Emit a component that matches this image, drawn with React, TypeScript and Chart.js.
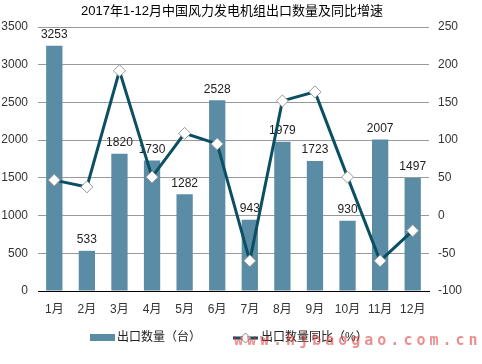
import React, { useEffect, useRef } from "react";
import { Chart, registerables } from "chart.js";

Chart.register(...registerables);

const titleText = "2017年1-12月中国风力发电机组出口数量及同比增速";
const categories = ["1月", "2月", "3月", "4月", "5月", "6月", "7月", "8月", "9月", "10月", "11月", "12月"];
const exportQty = [3253, 533, 1820, 1730, 1282, 2528, 943, 1979, 1723, 930, 2007, 1497];
const yoyGrowth = [47, 38, 192, 51, 109, 95, -60, 152, 164, 51, -60, -20];
const barLabel = "出口数量（台）";
const lineLabel = "出口数量同比（%）";
const watermark = "www.hjbaogao.com.cn";

const BAR_COLOR = "#5b8ca5";
const LINE_COLOR = "#0b4f63";
const FONT = "'Liberation Sans', 'Noto Sans CJK SC', sans-serif";

export default function App() {
  const ref = useRef<HTMLCanvasElement | null>(null);
  useEffect(() => {
    if (!ref.current) return;
    const labelPlugin = {
      id: "extras",
      afterDatasetDraw(chart: any, args: any) {
        if (args.index !== 0) return;
        const ctx = chart.ctx;
        const meta = chart.getDatasetMeta(0);
        ctx.save();
        ctx.font = `12px ${FONT}`;
        ctx.fillStyle = "#222";
        ctx.textAlign = "center";
        ctx.textBaseline = "bottom";
        meta.data.forEach((el: any, i: number) => {
          ctx.fillText(String(exportQty[i]), el.x, el.y - 5);
        });
        ctx.restore();
      },
      afterDraw(chart: any) {
        const ctx = chart.ctx;
        ctx.save();
        ctx.font = `13px ${FONT}`;
        ctx.fillStyle = "#000";
        ctx.textAlign = "center";
        ctx.textBaseline = "middle";
        ctx.fillText(titleText, 232, 11);
        // legend
        ctx.font = `12px ${FONT}`;
        ctx.fillStyle = BAR_COLOR;
        ctx.fillRect(90, 334, 25, 7);
        ctx.fillStyle = "#222";
        ctx.textAlign = "left";
        ctx.fillText(barLabel, 117, 338);
        ctx.strokeStyle = LINE_COLOR;
        ctx.lineWidth = 3;
        ctx.beginPath();
        ctx.moveTo(233, 338);
        ctx.lineTo(258, 338);
        ctx.stroke();
        ctx.fillStyle = "#fff";
        ctx.strokeStyle = "#888";
        ctx.lineWidth = 1;
        ctx.beginPath();
        ctx.moveTo(245.5, 333);
        ctx.lineTo(250.5, 338);
        ctx.lineTo(245.5, 343);
        ctx.lineTo(240.5, 338);
        ctx.closePath();
        ctx.fill();
        ctx.stroke();
        ctx.fillStyle = "#222";
        ctx.fillText(lineLabel, 261, 338);
        // watermark
        ctx.font = `bold 15px 'DejaVu Sans Mono', monospace`;
        (ctx as any).letterSpacing = "4px";
        ctx.fillStyle = "rgba(220, 50, 50, 0.55)";
        ctx.fillText(watermark, 234, 341);
        ctx.restore();
      },
    };
    const fmt = (v: any) => String(v);
    const chart = new Chart(ref.current, {
      type: "bar",
      data: {
        labels: categories,
        datasets: [
          {
            type: "bar",
            label: barLabel,
            data: exportQty,
            backgroundColor: BAR_COLOR,
            barPercentage: 0.5,
            categoryPercentage: 1,
            yAxisID: "y",
            order: 1,
          },
          {
            type: "line",
            label: lineLabel,
            data: yoyGrowth,
            borderColor: LINE_COLOR,
            borderWidth: 3,
            pointStyle: "rectRot",
            pointRadius: 6,
            pointBackgroundColor: "#fff",
            pointBorderColor: "#999",
            pointBorderWidth: 1,
            tension: 0,
            yAxisID: "y1",
            order: 0,
          } as any,
        ],
      },
      options: {
        responsive: false,
        animation: false,
        layout: { padding: { top: 27, bottom: 40, left: 0, right: 0 } },
        plugins: { legend: { display: false }, title: { display: false }, tooltip: { enabled: false } },
        scales: {
          x: {
            offset: true,
            grid: { display: false },
            border: { display: true, color: "#000", width: 1 },
            ticks: { font: { size: 12, family: FONT }, color: "#333", padding: 3, maxRotation: 0, autoSkip: false },
            afterFit: (s: any) => { s.height = 33; },
          },
          y: {
            position: "left",
            min: 0,
            max: 3500,
            ticks: { stepSize: 500, font: { size: 12, family: FONT }, color: "#333", padding: 10, callback: fmt },
            grid: { color: "#999", drawTicks: false },
            border: { display: false },
            afterFit: (s: any) => { s.width = 38; },
          },
          y1: {
            position: "right",
            min: -100,
            max: 250,
            ticks: { stepSize: 50, font: { size: 12, family: FONT }, color: "#333", padding: 9, callback: fmt },
            grid: { display: false, drawTicks: false },
            border: { display: false },
            afterFit: (s: any) => { s.width = 53; },
          },
        },
      },
      plugins: [labelPlugin],
    });
    return () => chart.destroy();
  }, []);
  return (
    <div style={{ position: "absolute", left: 0, top: 0, width: 482, height: 364, background: "#fff" }}>
      <canvas ref={ref} width={482} height={364} style={{ display: "block" }} />
    </div>
  );
}
